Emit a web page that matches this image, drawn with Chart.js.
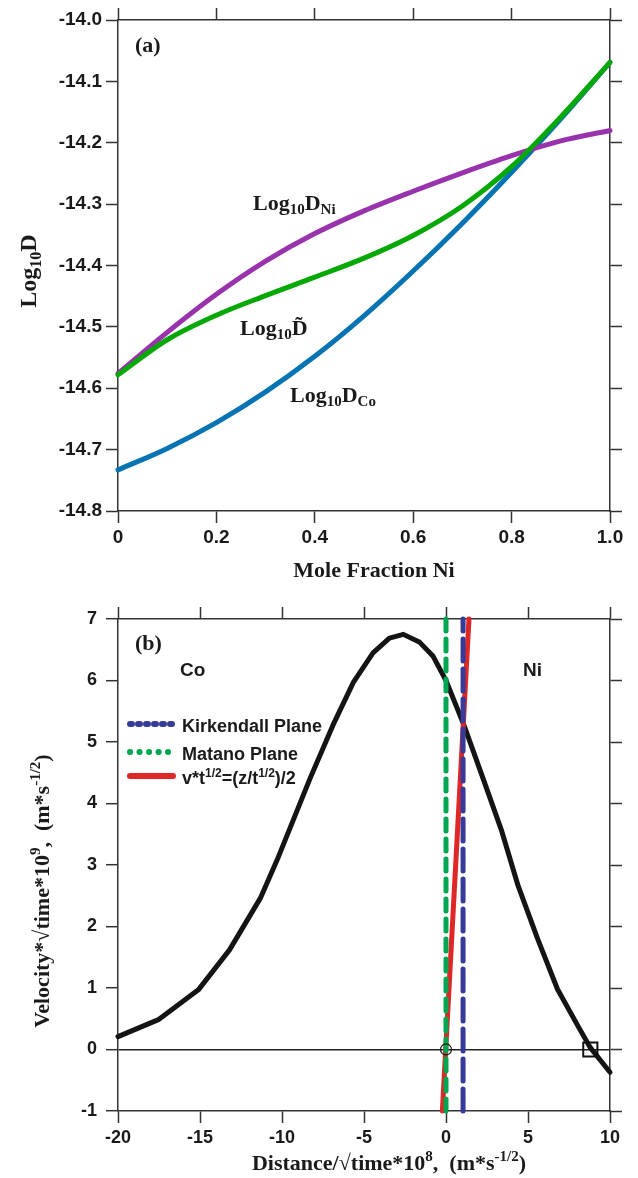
<!DOCTYPE html>
<html>
<head>
<meta charset="utf-8">
<script src="https://cdn.jsdelivr.net/npm/chart.js@4.4.1/dist/chart.umd.min.js"></script>
<style>
  html, body { margin: 0; padding: 0; background: #fff; }
  canvas { display: block; }
</style>
</head>
<body>
<canvas id="chartA" width="638" height="590"></canvas>
<canvas id="chartB" width="638" height="588"></canvas>
<script>
// ---- (a) log10 D against composition ----
const moleFractionNi = [0, 0.1, 0.2, 0.3, 0.4, 0.5, 0.6, 0.7, 0.8, 0.9, 1.0];
const logDNi    = [-14.576, -14.509, -14.447, -14.393, -14.348, -14.311, -14.279, -14.249, -14.221, -14.197, -14.180];
const logDTilde = [-14.578, -14.521, -14.481, -14.449, -14.419, -14.388, -14.351, -14.303, -14.239, -14.158, -14.069];
const logDCo    = [-14.733, -14.698, -14.656, -14.606, -14.548, -14.482, -14.409, -14.331, -14.248, -14.161, -14.069];
const xTicksA = [0, 0.2, 0.4, 0.6, 0.8, 1.0];
const xLabelsA = ['0', '0.2', '0.4', '0.6', '0.8', '1.0'];
const yTicksA = [-14.8, -14.7, -14.6, -14.5, -14.4, -14.3, -14.2, -14.1, -14.0];
const yLabelsA = ['-14.8', '-14.7', '-14.6', '-14.5', '-14.4', '-14.3', '-14.2', '-14.1', '-14.0'];

// ---- (b) velocity profile ----
const distance = [-20, -17.5, -15.1, -13.2, -11.3, -10.3, -8.3, -6.9, -5.65, -4.45, -3.45, -2.6, -1.6, -0.8, 0, 1.1, 2.35, 3.4, 4.4, 5.6, 6.8, 8.05, 8.8, 10];
const velocity = [0.21, 0.49, 0.97, 1.62, 2.47, 3.08, 4.4, 5.27, 5.97, 6.45, 6.69, 6.75, 6.62, 6.4, 6.0, 5.27, 4.34, 3.55, 2.66, 1.79, 0.98, 0.38, 0.03, -0.37];
const matanoPlane = 0;
const kirkendallPlane = 1.04;
const zeroCrossing = 8.8;
const planeV = [-1, 7];
const halfLineZ = [-0.22, 1.4];
const halfLineV = [-1, 7];
const xTicksB = [-20, -15, -10, -5, 0, 5, 10];
const xLabelsB = ['-20', '-15', '-10', '-5', '0', '5', '10'];
const yTicksB = [-1, 0, 1, 2, 3, 4, 5, 6, 7];
const yLabelsB = ['-1', '0', '1', '2', '3', '4', '5', '6', '7'];

const SANS = '"Liberation Sans", Arial, sans-serif';
const SERIF = '"Liberation Serif", "Times New Roman", serif';
const INK = '#1a1a1a';
const sansB = s => `bold ${s}px ${SANS}`;
const serifB = s => `bold ${s}px ${SERIF}`;

// text with sub/superscripts: parts = [text, font, dy]
function rich(ctx, parts, x, y, align, angle) {
  ctx.save();
  ctx.translate(x, y);
  if (angle) ctx.rotate(angle);
  ctx.textAlign = 'left';
  ctx.textBaseline = 'alphabetic';
  ctx.fillStyle = INK;
  let total = 0;
  parts.forEach(p => { ctx.font = p[1]; total += ctx.measureText(p[0]).width; });
  let cx = align === 'center' ? -total / 2 : 0;
  parts.forEach(p => {
    ctx.font = p[1];
    ctx.fillText(p[0], cx, p[2] || 0);
    cx += ctx.measureText(p[0]).width;
  });
  ctx.restore();
}

function axis(position, min, max, ticks, labels, size, fontSize, padding) {
  return {
    type: 'linear', position, min, max,
    afterBuildTicks: s => { s.ticks = ticks.map(v => ({ value: v })); },
    afterFit: s => { if (s.isHorizontal()) s.height = size; else s.width = size; },
    ticks: {
      display: !!labels, autoSkip: false, maxRotation: 0, padding: padding,
      font: { family: SANS, weight: 'bold', size: fontSize }, color: INK,
      callback: (v, i) => labels ? labels[i] : ''
    },
    grid: { drawOnChartArea: false, tickLength: 12, tickWidth: 1.5, tickColor: '#333' },
    border: { color: '#333', width: 1.5 }
  };
}

function line(data, color, width, extra) {
  return Object.assign({
    data, showLine: true, borderColor: color, borderWidth: width,
    pointRadius: 0, borderCapStyle: 'round', borderJoinStyle: 'round', clip: false
  }, extra || {});
}

const pts = (xs, ys) => xs.map((x, i) => ({ x, y: ys[i] }));

// ---------- chart (a) ----------
const textA = {
  id: 'textA',
  afterDraw(chart) {
    const ctx = chart.ctx;
    rich(ctx, [['(a)', serifB(22)]], 135, 52);
    rich(ctx, [['Log', serifB(22)], ['10', serifB(15), 4], ['D', serifB(22)], ['Ni', serifB(15), 4]], 253, 210);
    rich(ctx, [['Log', serifB(22)], ['10', serifB(15), 4], ['D\u0303', serifB(22)]], 240, 335);
    rich(ctx, [['Log', serifB(22)], ['10', serifB(15), 4], ['D', serifB(22)], ['Co', serifB(15), 4]], 290, 402);
    rich(ctx, [['Mole Fraction Ni', serifB(22)]], 374, 577, 'center');
    rich(ctx, [['Log', serifB(24)], ['10', serifB(16), 5], ['D', serifB(24)]], 36, 271, 'center', -Math.PI / 2);
  }
};

new Chart(document.getElementById('chartA'), {
  type: 'scatter',
  data: {
    datasets: [
      line(pts(moleFractionNi, logDTilde), '#05a805', 5, { cubicInterpolationMode: 'monotone' }),
      line(pts(moleFractionNi, logDNi), '#9932ad', 5, { cubicInterpolationMode: 'monotone' }),
      line(pts(moleFractionNi, logDCo), '#0673b3', 5, { cubicInterpolationMode: 'monotone' })
    ]
  },
  options: {
    responsive: false, animation: false,
    layout: { padding: 0 },
    plugins: { legend: { display: false }, tooltip: { enabled: false } },
    scales: {
      x: axis('bottom', 0, 1, xTicksA, xLabelsA, 79, 19, 3),
      x2: axis('top', 0, 1, xTicksA, null, 20, 19, 0),
      y: axis('left', -14.8, -14.0, yTicksA, yLabelsA, 118, 19, 4),
      y2: axis('right', -14.8, -14.0, yTicksA, null, 28, 19, 0)
    }
  },
  plugins: [textA]
});

// ---------- chart (b) ----------
const textB = {
  id: 'textB',
  afterDraw(chart) {
    const ctx = chart.ctx;
    const ds = chart.data.datasets;
    rich(ctx, [['(b)', serifB(22)]], 135, 60);
    rich(ctx, [['Co', sansB(19)]], 180, 86);
    rich(ctx, [['Ni', sansB(19)]], 523, 86);

    // legend samples use each dataset's colour
    const legend = [
      { d: ds[3], dash: [2, 6], y: 134, text: [['Kirkendall Plane', sansB(18)]], ty: 142 },
      { d: ds[2], dash: [0.1, 9.4], y: 162, text: [['Matano Plane', sansB(18)]], ty: 170 },
      { d: ds[4], dash: [], y: 186, text: [['v*t', sansB(18)], ['1/2', sansB(12), -7], ['=(z/t', sansB(18)], ['1/2', sansB(12), -7], [')/2', sansB(18)]], ty: 194 }
    ];
    legend.forEach(it => {
      ctx.save();
      ctx.strokeStyle = it.d.borderColor;
      ctx.lineWidth = 6;
      ctx.lineCap = 'round';
      ctx.setLineDash(it.dash);
      ctx.beginPath();
      ctx.moveTo(130, it.y);
      ctx.lineTo(173, it.y);
      ctx.stroke();
      ctx.restore();
      rich(ctx, it.text, 182, it.ty);
    });

    rich(ctx, [['Distance/\u221Atime*10', serifB(22)], ['8', serifB(15), -9], [',  (m*s', serifB(22)], ['-1/2', serifB(15), -9], [')', serifB(22)]], 389, 580, 'center');
    rich(ctx, [['Velocity*\u221Atime*10', serifB(22)], ['9', serifB(15), -9], [',  (m*s', serifB(22)], ['-1/2', serifB(15), -9], [')', serifB(22)]], 49, 301, 'center', -Math.PI / 2);
  }
};

const yB = axis('left', -1, 7, yTicksB, yLabelsB, 118, 18, 9);
yB.grid = {
  drawOnChartArea: true, tickLength: 12, tickWidth: 1.5, tickColor: '#333', lineWidth: 1.4,
  color: c => (c.tick && c.tick.value === 0) ? '#222' : 'rgba(0,0,0,0)'
};

new Chart(document.getElementById('chartB'), {
  type: 'scatter',
  data: {
    datasets: [
      { data: [{ x: matanoPlane, y: 0 }], pointStyle: 'circle', pointRadius: 5.5, borderColor: '#222', borderWidth: 1.3, backgroundColor: 'rgba(0,0,0,0)', clip: false },
      { data: [{ x: zeroCrossing, y: 0 }], pointStyle: 'rect', pointRadius: 10, borderColor: '#111', borderWidth: 2, backgroundColor: 'rgba(0,0,0,0)', clip: false },
      line(planeV.map(v => ({ x: matanoPlane, y: v })), '#00a64f', 5, { borderDash: [12, 8] }),
      line(planeV.map(v => ({ x: kirkendallPlane, y: v })), '#363b99', 5, { borderDash: [22, 8] }),
      line(pts(halfLineZ, halfLineV), '#e02727', 5),
      line(pts(distance, velocity), '#141414', 5, { tension: 0 })
    ]
  },
  options: {
    responsive: false, animation: false,
    layout: { padding: 0 },
    plugins: { legend: { display: false }, tooltip: { enabled: false } },
    scales: {
      x: axis('bottom', -20, 10, xTicksB, xLabelsB, 67, 18, 4),
      x2: axis('top', -20, 10, xTicksB, null, 29, 18, 0),
      y: yB,
      y2: axis('right', -1, 7, yTicksB, null, 28, 18, 0)
    }
  },
  plugins: [textB]
});
</script>
</body>
</html>
